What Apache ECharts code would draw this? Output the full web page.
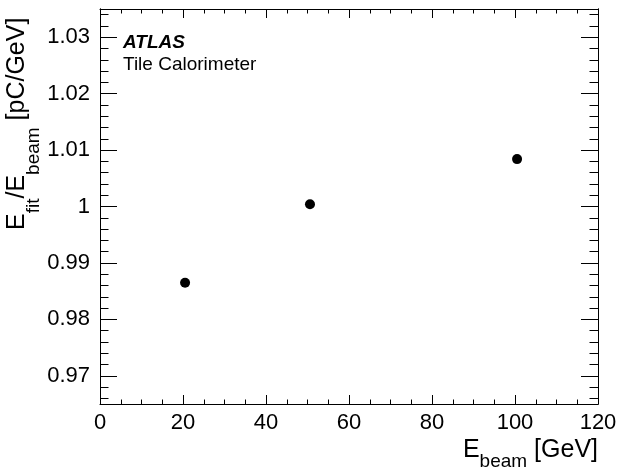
<!DOCTYPE html>
<html>
<head>
<meta charset="utf-8">
<script src="https://cdn.jsdelivr.net/npm/echarts@6/dist/echarts.min.js"></script>
<style>html,body{margin:0;padding:0;background:#fff}#c{width:620px;height:470px}</style>
</head>
<body>
<div id="c"></div>
<script>
const beamEnergies = [20.5, 50.6, 100.5];
const fitRatios = [0.9865, 1.0004, 1.0084];
const xMin = 0, xMax = 120, xStep = 20;
const yMin = 0.965, yMax = 1.035;
const yMajorTicks = [0.97, 0.98, 0.99, 1.00, 1.01, 1.02, 1.03];
const yMinorTicks = [0.966, 0.968, 0.972, 0.974, 0.976, 0.978, 0.982, 0.984, 0.986, 0.988,
  0.992, 0.994, 0.996, 0.998, 1.002, 1.004, 1.006, 1.008, 1.012, 1.014, 1.016, 1.018,
  1.022, 1.024, 1.026, 1.028, 1.032, 1.034];

const FONT = '"Liberation Sans", Arial, Helvetica, sans-serif';
const chart = echarts.init(document.getElementById('c'));
const lineStyle = { color: '#000', width: 1 };

function xAx(pos, labels) {
  return {
    type: 'value', position: pos, min: xMin, max: xMax, interval: xStep,
    axisLine: { show: true, onZero: false, lineStyle },
    axisTick: { show: true, inside: true, length: 9, lineStyle },
    minorTick: { show: true, splitNumber: 4, length: 4.5, lineStyle },
    splitLine: { show: false }, minorSplitLine: { show: false },
    axisLabel: labels ? { show: true, margin: 8, color: '#000', fontSize: 22, fontFamily: FONT } : { show: false }
  };
}
function yAx(pos, ticks, len, labels) {
  return {
    type: 'value', position: pos, min: yMin, max: yMax,
    axisLine: { show: true, onZero: false, lineStyle },
    axisTick: { show: true, inside: true, length: len, customValues: ticks, lineStyle },
    splitLine: { show: false },
    axisLabel: labels ? { show: true, customValues: ticks, margin: 10, color: '#000', fontSize: 22, fontFamily: FONT,
      formatter: v => String(+v.toFixed(3)) } : { show: false }
  };
}

chart.setOption({
  animation: false,
  backgroundColor: '#fff',
  grid: { left: 100, right: 22, top: 9, bottom: 66, containLabel: false },
  xAxis: [xAx('bottom', true), xAx('top', false)],
  yAxis: [yAx('left', yMajorTicks, 17, true), yAx('left', yMinorTicks, 8.5, false),
          yAx('right', yMajorTicks, 17, false), yAx('right', yMinorTicks, 8.5, false)],
  series: [{
    type: 'scatter', xAxisIndex: 0, yAxisIndex: 0, symbol: 'circle', symbolSize: 10,
    itemStyle: { color: '#000', opacity: 1 },
    data: beamEnergies.map((e, i) => [e, fitRatios[i]])
  }],
  graphic: [
    { type: 'text', left: 123, top: 33, style: { text: 'ATLAS', fontFamily: FONT, fontSize: 19, fontWeight: 'bold', fontStyle: 'italic', fill: '#000' } },
    { type: 'text', left: 123, top: 55, style: { text: 'Tile Calorimeter', fontFamily: FONT, fontSize: 19, fill: '#000' } },
    { type: 'text', x: 598, y: 438, style: {
      text: '{a|E}{s|beam}{a| [GeV]}', align: 'right', verticalAlign: 'top',
      rich: {
        a: { fontFamily: FONT, fontSize: 25, lineHeight: 33, verticalAlign: 'top', fill: '#000' },
        s: { fontFamily: FONT, fontSize: 19, lineHeight: 33, verticalAlign: 'bottom', fill: '#000' }
      } } },
    { type: 'text', x: 5, y: 230, rotation: Math.PI / 2, style: {
      text: '{a|E}{s|fit}{a|/E}{s|beam}{a| [pC/GeV]}', align: 'left', verticalAlign: 'top',
      rich: {
        a: { fontFamily: FONT, fontSize: 25, lineHeight: 38, verticalAlign: 'top', fill: '#000' },
        s: { fontFamily: FONT, fontSize: 19, lineHeight: 38, verticalAlign: 'bottom', fill: '#000' }
      } } }
  ]
});
</script>
</body>
</html>
